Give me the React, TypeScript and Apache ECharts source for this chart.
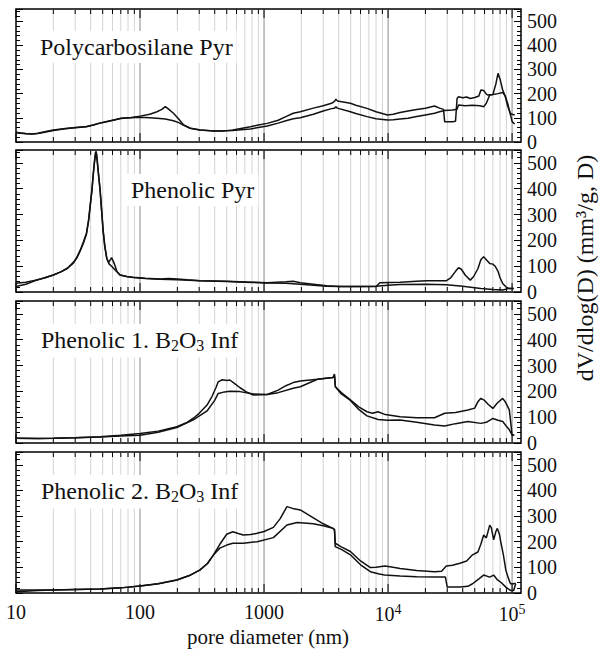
import React, { useEffect, useRef } from "react";
import * as echarts from "echarts";

// ---------- data (pore diameter nm, dV/dlog(D)) ----------
const panelTitles = [
  "{m|Polycarbosilane Pyr}",
  "{m|Phenolic Pyr}",
  "{m|Phenolic 1. B}{s|2}{m|O}{s|3}{m| Inf}",
  "{m|Phenolic 2. B}{s|2}{m|O}{s|3}{m| Inf}",
];

const p1a = [[10,38],[11,36],[12,34],[13.5,33],[15,35],[17,40],[20,48],[25,55],[30,59],[37,63],[42,70],[47,78],[55,86],[63,92],[70,98],[85,101],[100,107],[120,115],[137,125],[150,135],[160,146],[170,136],[186,119],[205,95],[223,72],[254,57],[305,50],[390,45],[480,46],[560,50],[650,56],[776,63],[900,70],[1060,77],[1300,90],[1500,105],[1720,119],[1960,125],[2500,140],[3000,150],[3500,160],[3700,168],[3800,177],[3900,170],[4970,160],[5500,152],[6760,139],[8000,125],[9900,112],[11000,115],[12500,122],[14500,128],[17000,134],[20000,140],[23700,149],[26000,140],[28000,135],[28600,84],[33000,84],[35000,86],[36000,180],[37000,187],[40000,183],[43000,186],[46000,180],[50000,184],[54000,190],[56000,215],[59000,213],[62000,198],[64000,194],[70000,196],[77000,200],[84000,205],[88000,190],[92000,150],[97000,118],[100000,115],[105000,112]];
const p1b = [[10,40],[11,37],[12,35],[13.5,33],[15,36],[17,42],[20,50],[25,56],[30,60],[37,64],[42,70],[47,77],[55,85],[63,92],[70,97],[85,100],[100,102],[120,100],[137,98],[160,95],[186,88],[205,80],[223,70],[254,57],[305,50],[390,46],[480,47],[560,48],[650,51],[776,54],[900,60],[1060,66],[1300,78],[1500,88],[1720,96],[1960,100],[2500,115],[3000,128],[3500,138],[3700,140],[3800,146],[3900,140],[4970,125],[5500,118],[6760,105],[8000,96],[9900,91],[11000,92],[12500,95],[14500,98],[17000,105],[20000,112],[23700,119],[26000,125],[28600,130],[33000,132],[36000,135],[37000,153],[42000,150],[48000,152],[55000,150],[59000,146],[62000,160],[66000,194],[70000,196],[74000,240],[77000,284],[80000,260],[84000,215],[88000,190],[92000,160],[95000,132],[100000,85],[103000,78],[105000,75]];

const p2a = [[10,34],[12,38],[14,45],[17,54],[20,66],[23,78],[26,92],[29,115],[31,135],[33,163],[35,195],[37,228],[38.5,280],[39.5,330],[41,400],[42,460],[43,510],[43.7,540],[44.3,545],[45,520],[46,470],[47.6,400],[49,320],[50.4,240],[52,180],[54,130],[56,110],[59,100],[63,85],[69,66],[78,60],[88,57],[110,53],[145,50],[170,52],[200,50],[240,47],[305,44],[500,42],[800,38],[1060,36],[1500,40],[1720,42],[1960,36],[2500,30],[3200,24],[4100,21],[6000,21],[8000,21],[8600,36],[12500,38],[17000,42],[20400,44],[25000,44],[29600,44],[32000,55],[35000,80],[37000,94],[39000,88],[42000,65],[46000,46],[49000,60],[53000,90],[56000,125],[59000,137],[62000,125],[66000,110],[70000,108],[73000,100],[77000,80],[80000,55],[84000,33],[90000,18],[95000,14],[103000,14]];
const p2b = [[10,21],[12,30],[14,42],[17,55],[20,66],[23,78],[26,92],[29,112],[31,132],[33,160],[35,190],[37,225],[38.5,275],[39.5,325],[41,395],[42,455],[43,505],[43.7,530],[44.3,540],[45,515],[46,465],[47.6,395],[49,315],[50.4,235],[52,175],[54,128],[56,115],[59,133],[62,110],[65,80],[69,66],[78,60],[88,56],[110,52],[145,49],[200,47],[305,44],[500,41],[800,37],[1060,35],[1500,34],[1960,30],[2500,26],[3200,22],[4100,21],[6000,21],[8000,22],[10000,26],[12500,29],[20400,30],[29600,28],[40000,22],[56000,14],[70000,10],[84000,8],[95000,14],[103000,14]];

const p3a = [[10,18],[15,17],[20,18],[30,20],[47.6,24],[70,30],[100,37],[140,46],[198,63],[240,80],[269,96],[300,115],[347,147],[380,180],[410,215],[427,237],[460,245],[500,242],[530,244],[580,230],[640,214],[720,198],[820,186],[1060,188],[1300,205],[1500,222],[1720,234],[1960,240],[2700,247],[3300,252],[3600,254],[3700,267],[3760,218],[4200,195],[4970,167],[5800,140],[6760,121],[7500,115],[8300,121],[9500,110],[12500,102],[17000,98],[23700,98],[28600,115],[35000,118],[44000,128],[50000,135],[53000,160],[56000,173],[60000,165],[64000,150],[70000,134],[76000,155],[84000,173],[88000,160],[95000,128],[100000,31],[104000,31]];
const p3b = [[10,18],[15,17],[20,18],[30,20],[47.6,23],[70,27],[100,30],[140,42],[198,60],[269,90],[347,124],[400,165],[427,192],[480,198],[530,200],[640,199],[820,190],[1060,188],[1300,195],[1720,212],[1960,218],[2700,247],[3300,252],[3600,254],[3700,258],[3760,218],[4200,190],[4970,165],[5800,130],[6760,105],[8300,91],[9900,88],[12500,89],[17000,80],[23700,70],[28600,66],[35000,75],[44000,83],[56000,76],[62000,80],[70000,95],[77000,88],[84000,83],[90000,65],[95000,51],[100000,31],[104000,31]];

const p4a = [[10,5],[15,10],[20,12],[30,14],[47.6,16],[70,20],[100,27],[140,36],[198,51],[250,68],[305,90],[350,115],[390,148],[440,190],[500,229],[560,239],[620,232],[680,226],[780,228],[880,233],[1000,240],[1190,256],[1350,290],[1530,337],[1700,330],[1960,324],[2500,293],[3000,270],[3600,252],[3700,245],[3750,194],[4200,180],[4970,162],[6000,125],[7200,99],[8000,100],[9400,105],[11000,100],[12500,96],[17000,88],[23700,83],[27000,85],[29500,105],[33000,108],[38000,116],[43000,125],[48000,149],[53000,160],[56000,190],[59000,226],[62000,215],[64000,240],[66000,265],[68000,255],[71000,207],[74000,240],[76000,252],[79000,230],[81000,200],[85000,150],[89000,90],[93000,60],[97000,36],[103000,36],[107000,38]];
const p4b = [[10,12],[15,12],[20,12],[30,14],[47.6,16],[70,20],[100,27],[140,36],[198,51],[250,68],[305,90],[350,115],[390,148],[440,175],[500,187],[560,194],[680,194],[880,200],[1190,216],[1530,265],[1850,275],[2500,270],[3000,262],[3600,252],[3700,248],[3750,181],[4200,170],[4970,149],[6000,110],[7200,83],[8500,74],[9400,70],[12500,66],[17000,63],[23700,62],[29000,62],[30000,23],[38000,23],[44000,26],[48000,36],[54000,55],[59000,70],[66000,62],[71000,70],[76000,52],[82000,40],[89000,23],[97000,10],[103000,10],[107000,36]];

const panelSeries = [[p1a, p1b], [p2a, p2b], [p3a, p3b], [p4a, p4b]];

const xMin = 10;
const xMax = 118000;
const yMax = 550;
const yLabels = [0, 100, 200, 300, 400, 500];
const decades = [10, 100, 1000, 10000, 100000];
const xTitle = "pore diameter (nm)";
const yTitle = "dV/dlog(D) (mm³/g, D)";

// log tick positions (1..9 x 10^k)
const logTicks: number[][] = [];
for (const d of decades) {
  for (let m = 1; m <= 9; m++) {
    const v = d * m;
    if (v <= 100000) logTicks.push([v, m === 1 ? 1 : 0]);
  }
}

// ---------- layout ----------
const gridBoxes = [
  { top: 9, height: 133 },
  { top: 150, height: 142 },
  { top: 301, height: 142 },
  { top: 452, height: 141 },
];
const titlePos = [
  { left: 36, top: 29 },
  { left: 127, top: 172 },
  { left: 37, top: 322 },
  { left: 37, top: 473 },
];
const FONT = '"Liberation Serif", "Times New Roman", serif';

export default function App() {
  const ref = useRef<HTMLDivElement>(null);
  useEffect(() => {
    if (!ref.current) return;
    const chart = echarts.init(ref.current, undefined, { renderer: "svg" });

    const grid = gridBoxes.map((g) => ({
      left: 16,
      width: 505,
      top: g.top,
      height: g.height,
      show: true,
      borderColor: "#000",
      borderWidth: 1.5,
      backgroundColor: "transparent",
    }));

    const xAxis = gridBoxes.map((_, i) => ({
      type: "log",
      logBase: 10,
      gridIndex: i,
      min: xMin,
      max: xMax,
      axisLine: { show: false },
      axisTick: { show: false },
      splitLine: { show: false },
      axisLabel: {
        show: i === 3,
        margin: 9,
        color: "#111",
        fontFamily: FONT,
        fontSize: 20,
        formatter: (v: number) => {
          const e = Math.log10(v);
          const r = Math.round(e);
          if (Math.abs(e - r) > 1e-6) return "";
          if (r <= 3) return String(Math.round(v));
          return "{b|10}{s|" + r + "}";
        },
        rich: {
          b: { fontFamily: FONT, fontSize: 20, color: "#111" },
          s: { fontFamily: FONT, fontSize: 14, color: "#111", padding: [0, 0, 10, 0] },
        },
      },
    }));

    const yAxis: any[] = [];
    gridBoxes.forEach((_, i) => {
      const base = {
        type: "value",
        gridIndex: i,
        min: 0,
        max: yMax,
        interval: 100,
        axisLine: { show: false },
        axisTick: { show: true, inside: true, length: 7, lineStyle: { color: "#000", width: 1 } },
        minorTick: { show: true, splitNumber: 5, length: 4, lineStyle: { color: "#000", width: 1 } },
        splitLine: { show: false },
      };
      yAxis.push({
        ...base,
        position: "right",
        axisLabel: {
          show: true,
          margin: 6,
          color: "#111",
          fontFamily: FONT,
          fontSize: 20,
          formatter: (v: number) => (yLabels.indexOf(v) >= 0 ? String(v) : ""),
        },
      });
      yAxis.push({ ...base, position: "left", axisLabel: { show: false } });
    });

    const series: any[] = [];
    gridBoxes.forEach((_, i) => {
      series.push({
        type: "custom",
        xAxisIndex: i,
        yAxisIndex: i * 2,
        data: logTicks,
        z: 1,
        silent: true,
        clip: false,
        encode: { x: 0 },
        renderItem: (params: any, api: any) => {
          const x = api.value(0);
          const major = api.value(1) === 1;
          const top = api.coord([x, yMax]);
          const bot = api.coord([x, 0]);
          const children: any[] = [];
          if (x > xMin) {
            children.push({
              type: "line",
              shape: { x1: top[0], y1: top[1], x2: bot[0], y2: bot[1] },
              style: { stroke: major ? "#8a8a8a" : "#d4d4d4", lineWidth: 1 },
            });
          }
          const len = major ? 9 : 5;
          children.push({
            type: "line",
            shape: { x1: top[0], y1: top[1], x2: top[0], y2: top[1] + len },
            style: { stroke: "#000", lineWidth: 1 },
          });
          children.push({
            type: "line",
            shape: { x1: bot[0], y1: bot[1], x2: bot[0], y2: bot[1] - len },
            style: { stroke: "#000", lineWidth: 1 },
          });
          return { type: "group", children };
        },
      });
      panelSeries[i].forEach((d) => {
        series.push({
          type: "line",
          xAxisIndex: i,
          yAxisIndex: i * 2,
          data: d,
          showSymbol: false,
          symbol: "none",
          z: 3,
          lineStyle: { color: "#111", width: 1.5 },
        });
      });
    });

    const title = panelTitles.map((t, i) => ({
      text: t,
      left: titlePos[i].left,
      top: titlePos[i].top,
      backgroundColor: "#fff",
      padding: [4, 4, 4, 4],
      textStyle: {
        fontWeight: "normal",
        rich: {
          m: { fontFamily: FONT, fontSize: 24, fontWeight: "normal", color: "#111", lineHeight: 28 },
          s: { fontFamily: FONT, fontSize: 16, fontWeight: "normal", color: "#111", padding: [11, 0, 0, 0] },
        },
      },
    }));

    chart.setOption({
      animation: false,
      backgroundColor: "#fff",
      title,
      grid,
      xAxis,
      yAxis,
      series,
      graphic: [
        {
          type: "text",
          x: 268,
          y: 637,
          style: {
            text: xTitle,
            fontFamily: FONT,
            fontSize: 21,
            fill: "#111",
            textAlign: "center",
            textVerticalAlign: "middle",
          },
        },
        {
          type: "text",
          x: 585,
          y: 268,
          rotation: Math.PI / 2,
          style: {
            text: yTitle,
            fontFamily: FONT,
            fontSize: 24,
            fill: "#111",
            textAlign: "center",
            textVerticalAlign: "middle",
          },
        },
      ],
    });
    return () => chart.dispose();
  }, []);
  return (
    <div
      ref={ref}
      style={{ position: "absolute", left: 0, top: 0, width: 599, height: 655 }}
    />
  );
}
